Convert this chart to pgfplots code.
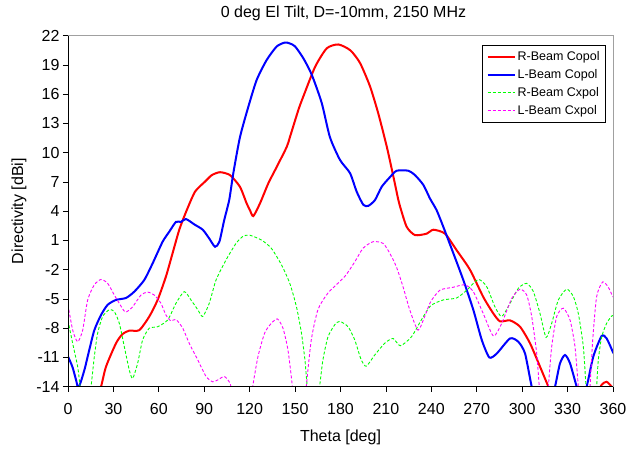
\documentclass[border=0pt]{standalone}
\usepackage{fontspec}
\setmainfont{Liberation Sans}
\usepackage{pgfplots}
\pgfplotsset{compat=1.18}
\definecolor{frameg}{RGB}{160,160,160}
\definecolor{cred}{RGB}{255,0,0}
\definecolor{cblue}{RGB}{0,0,255}
\definecolor{cgreen}{RGB}{0,255,0}
\definecolor{cmag}{RGB}{255,0,255}
\begin{document}
\begin{tikzpicture}
\begin{axis}[
  name=ax,
  scale only axis, width=545pt, height=351pt,
  xmin=0, xmax=360, ymin=-14, ymax=22,
  xtick={0,30,...,360}, ytick={-14,-11,...,22},
  tick align=outside, xtick pos=bottom, ytick pos=left,
  major tick length=5pt,
  tick style={black, line width=0.8pt},
  axis line style={draw=none},
  ticklabel style={font=\fontsize{16}{19}\selectfont},
  /pgf/number format/assume math mode=true,
  xticklabel style={yshift=-8pt},
  xlabel={Theta [deg]},
  ylabel={Directivity [dBi]},
  xlabel style={at={([yshift=-51pt]axis description cs:0.5,0)}, anchor=center, font=\fontsize{16}{19}\selectfont},
  ylabel style={at={([xshift=-49pt]axis description cs:0,0.5)}, anchor=center, font=\fontsize{16}{19}\selectfont},
  title={0 deg El Tilt, D=-10mm, 2150 MHz},
  title style={at={([yshift=12.4pt,xshift=3pt]axis description cs:0.5,1)}, anchor=base, font=\fontsize{16}{19}\selectfont},
  legend style={at={([xshift=-7pt,yshift=-9.3pt]axis description cs:1,1)}, anchor=north east, draw=black, line width=0.8pt, font=\fontsize{12.5}{15}\selectfont, cells={anchor=west}, row sep=3.5pt, inner xsep=4pt, inner ysep=4pt},
  legend image code/.code={\draw[#1] (0pt,0pt) -- (27pt,0pt);},
]
\addplot[cred, line width=2pt, smooth, tension=0.4] coordinates {
(0,-18) (10,-17) (18,-15.5) (21.8,-14) (25.1,-11.95) (31.7,-9.55) (36,-8.6) (40.5,-8.25) (47.1,-8.2) (53.7,-6.8) (59.2,-5.1) (64.7,-2.7) (69.1,-0.3) (73.5,2.1) (77.9,3.9) (83.9,6.0) (90.5,7.03) (95,7.7) (100.4,8.0) (107,7.7) (113.6,6.5) (118,4.8) (120.2,4.1) (122.4,3.5) (126.8,4.8) (132.3,6.85) (137.9,8.55) (144.5,10.6) (146.6,11.6) (152.2,14.4) (155.4,15.75) (163.2,18.8) (170.9,20.7) (178.6,21.1) (186.5,20.5) (192.9,19.2) (199.5,16.8) (205,14.0) (210.6,10.6) (215,7.5) (218.2,5.15) (219.3,4.5) (223.7,2.4) (229.2,1.55) (237,1.7) (241.3,2.1) (249,1.7) (256.7,0.0) (265.5,-2.0) (274.3,-4.8) (281,-6.5) (285.4,-7.3) (292,-7.2) (298.6,-7.85) (305.2,-9.55) (311.8,-11.95) (317.3,-14) (325,-17) (340,-18) (349,-15) (352.5,-13.8) (355.8,-13.5) (359.1,-14) (360,-14.3)
};
\addlegendentry{R-Beam Copol}
\addplot[cblue, line width=2pt, smooth, tension=0.4] coordinates {
(0,-10.9) (3,-12) (5.3,-13.3) (7,-14.1) (10.8,-12.3) (14.1,-10.2) (17.4,-8.2) (21.8,-6.65) (26.2,-5.6) (31.7,-5.1) (38.3,-4.9) (43.8,-4.25) (50.4,-3.05) (55.9,-1.35) (62.5,0.87) (66.9,1.9) (71.3,2.9) (74.6,2.9) (77.9,3.2) (83.4,2.65) (89,2.1) (93.3,1.2) (97.1,0.35) (100,0.87) (103.2,3.1) (106.5,5.15) (109.2,7.9) (113.6,11.6) (119.1,14.7) (124.6,17.45) (131.2,19.5) (137.9,20.9) (143.3,21.3) (146.6,21.2) (150,20.9) (155.4,19.7) (161,18.0) (167.6,15.1) (173,11.6) (179.7,9.25) (186.3,7.9) (190.7,6.0) (195.1,4.65) (198.4,4.55) (202.8,5.15) (207.2,6.5) (212.7,7.5) (217.1,8.15) (224.8,8.15) (229.2,7.7) (234.7,6.7) (239.1,5.3) (243.5,4.1) (247.9,2.4) (254.5,-0.3) (261.1,-3.05) (267.7,-6.1) (273.3,-9.2) (278.3,-11.0) (283.2,-10.6) (292,-9.05) (297.5,-9.4) (301.9,-10.6) (306.3,-14) (310,-16) (318,-16) (321.7,-14) (325,-11.6) (328.3,-10.75) (331.6,-11.6) (336,-14) (339,-15.5) (342.6,-14) (347,-10.9) (352.5,-8.8) (355.8,-9.05) (359.8,-10.4) (360,-10.5)
};
\addlegendentry{L-Beam Copol}
\addplot[cgreen, line width=0.9pt, dash pattern=on 3pt off 2pt, smooth, tension=0.4] coordinates {
(0,-7.2) (3,-9.5) (6.4,-11.95) (8,-14) (10,-16) (13,-16) (15.2,-14) (17.4,-10.9) (19.6,-8.5) (22.9,-6.8) (27.3,-6.1) (30.6,-6.3) (33.9,-7.5) (37.2,-9.9) (40.5,-12.3) (42.7,-13.15) (46,-11.6) (49.3,-9.2) (53.7,-8.0) (59.2,-7.85) (65.9,-7.15) (71.3,-5.45) (76.8,-4.25) (81.2,-5.1) (85.7,-6.1) (89,-6.8) (93.3,-5.45) (97.8,-3.05) (104.4,-1.0) (111,0.7) (115.4,1.4) (119.8,1.55) (127.7,1.05) (134.3,0.2) (141,-1.5) (146.5,-3.4) (150.9,-5.8) (154.2,-8.5) (156.5,-11.25) (158,-14) (160,-17) (164,-17) (166.2,-14) (168.4,-11.25) (171.7,-8.9) (176.2,-7.65) (179.5,-7.3) (185,-7.85) (189.4,-9.2) (193.7,-11.25) (197,-11.9) (202.6,-10.75) (209.2,-9.55) (214.7,-9.05) (219.5,-9.8) (226.8,-8.9) (233.4,-7.15) (239.5,-5.7) (247.9,-5.1) (256.7,-4.9) (263.4,-4.1) (271,-3.0) (276.6,-3.75) (282,-5.8) (286.5,-6.8) (292,-5.45) (297.5,-3.9) (303,-3.4) (307.4,-4.25) (311.8,-6.5) (315.8,-8.95) (319.5,-7.5) (323.9,-5.1) (329.4,-4.0) (333.8,-4.75) (337.1,-6.5) (340.4,-9.9) (342.2,-14) (344,-17) (348,-17) (349.2,-14) (350.3,-11.25) (352.5,-8.9) (355.8,-7.5) (359.1,-6.75) (360,-6.7)
};
\addlegendentry{R-Beam Cxpol}
\addplot[cmag, line width=0.9pt, dash pattern=on 3pt off 2pt, smooth, tension=0.4] coordinates {
(0,-5.6) (3.1,-8.2) (6.4,-9.4) (9.7,-8.2) (13,-5.1) (17.4,-3.55) (21.8,-3.0) (26.2,-3.4) (30.6,-4.6) (33.9,-5.45) (37.9,-6.35) (42.7,-5.8) (48.2,-4.6) (52.6,-4.3) (57,-4.6) (61.4,-5.45) (64.7,-6.65) (68,-7.25) (71.3,-7.1) (75.8,-8.0) (80.1,-9.55) (85.7,-11.25) (91.2,-12.95) (95.6,-13.5) (99,-13.3) (103.2,-12.95) (106.5,-13.5) (107.6,-14) (110,-17) (119,-17) (122.2,-13.8) (125.5,-10.9) (129.9,-8.5) (134.3,-7.5) (138.3,-7.05) (142,-8.0) (145.3,-10.25) (148.2,-14) (150,-18) (155,-18) (157.4,-14) (160.7,-9.2) (165.1,-6.1) (171.7,-4.4) (182.8,-2.7) (189.4,-1.2) (194.9,0.2) (201.5,0.87) (208.1,0.7) (212.5,-0.3) (216.9,-1.7) (221.3,-3.75) (225.7,-6.1) (231.2,-8.2) (235.6,-6.8) (239.5,-5.3) (245.7,-4.1) (254.5,-3.8) (262.2,-3.55) (267.7,-4.25) (274.3,-6.5) (281,-8.8) (286.5,-7.5) (293.1,-4.95) (298.6,-4.0) (303,-4.6) (306.3,-6.8) (309.6,-10.6) (311.3,-14) (313,-17) (316,-17) (317.3,-14) (319.5,-9.9) (322.8,-6.8) (327.2,-5.95) (331.6,-7.15) (334.9,-9.9) (337.1,-14) (339,-17) (343,-17) (344.8,-14) (346.6,-9.2) (349.2,-4.75) (353.2,-3.25) (356.9,-3.8) (359.8,-4.75) (360,-4.8)
};
\addlegendentry{L-Beam Cxpol}
\end{axis}
\draw[frameg, line width=1pt] (ax.north west) -- (ax.north east) -- (ax.south east);
\draw[black, line width=1pt] (ax.north west) -- (ax.south west) -- (ax.south east);
\pgfresetboundingbox
\path[use as bounding box] (-68pt,-65.3pt) rectangle (561pt,386.7pt);
\end{tikzpicture}
\end{document}
